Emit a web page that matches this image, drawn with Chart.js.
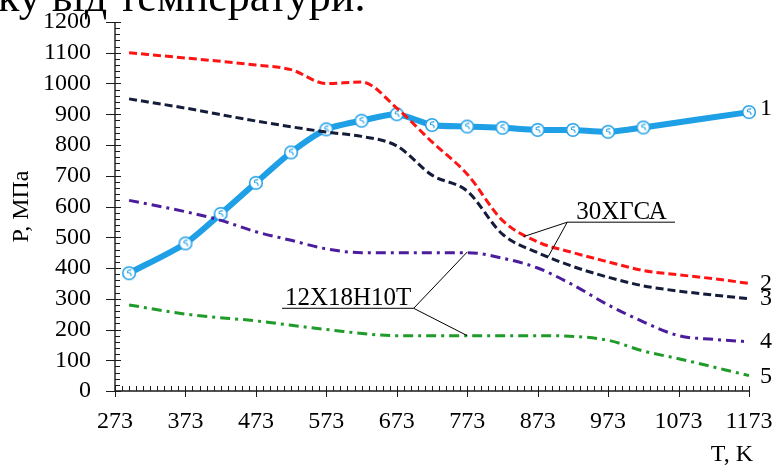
<!DOCTYPE html>
<html>
<head>
<meta charset="utf-8">
<script src="https://cdn.jsdelivr.net/npm/chart.js@4/dist/chart.umd.min.js"></script>
<style>
  html, body { margin: 0; padding: 0; background: #fff; }
  #wrap { width: 773px; height: 467px; position: relative; overflow: hidden; }
</style>
</head>
<body>
<div id="wrap"><canvas id="c" width="773" height="467"></canvas></div>
<script>
// Axis ticks
const xTicks = [273, 373, 473, 573, 673, 773, 873, 973, 1073, 1173];
const yTicks = [0, 100, 200, 300, 400, 500, 600, 700, 800, 900, 1000, 1100, 1200];

// Curve 1 (measured points)
const temp1 = [293, 373, 423, 473, 523, 573, 623, 673, 723, 773, 823, 873, 923, 973, 1023, 1173];
const stress1 = [383, 480, 576, 677, 776, 851, 879, 900, 865, 860, 856, 849, 849, 843, 857, 907];

// Curve 2 – 30ХГСА (upper)
const temp2 = [293, 373, 473, 523, 573, 623, 673, 723, 773, 823, 873, 923, 973, 1023, 1073, 1123, 1173];
const stress2 = [1100, 1083, 1060, 1045, 1000, 1005, 920, 810, 705, 555, 485, 450, 420, 392, 378, 365, 350];

// Curve 3 – 30ХГСА (lower)
const temp3 = [293, 373, 473, 573, 623, 673, 723, 773, 823, 873, 923, 973, 1023, 1073, 1123, 1173];
const stress3 = [950, 920, 878, 842, 828, 797, 702, 650, 510, 450, 405, 370, 342, 325, 312, 300];

// Curve 4 – 12Х18Н10Т (upper)
const temp4 = [293, 373, 423, 473, 523, 573, 623, 673, 723, 773, 823, 873, 923, 973, 1023, 1073, 1123, 1173];
const stress4 = [620, 583, 555, 518, 490, 462, 450, 450, 450, 450, 432, 400, 345, 280, 225, 180, 168, 160];

// Curve 5 – 12Х18Н10Т (lower)
const temp5 = [293, 373, 473, 573, 673, 773, 873, 973, 1023, 1073, 1173];
const stress5 = [280, 250, 228, 200, 180, 180, 180, 165, 130, 105, 50];

const FONT = '"Liberation Serif", "Times New Roman", serif';

function pts(xs, ys) { return xs.map((x, i) => ({ x: x, y: ys[i] })); }

// Small round marker with a stroke inside
function makeMarker() {
  const c = document.createElement('canvas');
  c.width = 16; c.height = 16;
  const g = c.getContext('2d');
  g.beginPath(); g.arc(8, 8, 6.3, 0, Math.PI * 2);
  g.fillStyle = '#ffffff'; g.fill();
  g.lineWidth = 1.5; g.strokeStyle = '#1E9FE6'; g.stroke();
  g.beginPath();
  g.moveTo(10.2, 4.9);
  g.quadraticCurveTo(5.4, 4.6, 6.6, 7.5);
  g.quadraticCurveTo(10.8, 7.7, 9.9, 10.9);
  g.lineWidth = 1.1; g.stroke();
  return c;
}
const marker = makeMarker();

// Axes, tick marks, labels and call-outs
const decor = {
  id: 'decor',
  afterDraw(chart) {
    const ctx = chart.ctx;
    const xs = chart.scales.x, ys = chart.scales.y;
    const X = v => xs.getPixelForValue(v), Y = v => ys.getPixelForValue(v);
    const left = X(273), right = X(1173), bottom = Y(0), top = Y(1200);
    ctx.save();
    ctx.strokeStyle = '#1a1a1a';
    ctx.lineWidth = 1.4;
    ctx.beginPath();
    ctx.moveTo(left, top); ctx.lineTo(left, bottom); ctx.lineTo(right, bottom);
    ctx.stroke();
    ctx.lineWidth = 1;
    ctx.beginPath();
    // y ticks: major crossing the axis, minor inside
    for (let v = 0; v <= 1200; v += 20) {
      const py = Math.round(Y(v)) + 0.5;
      if (v % 100 === 0) { ctx.moveTo(left - 9, py); ctx.lineTo(left + 6, py); }
      else { ctx.moveTo(left, py); ctx.lineTo(left + 5, py); }
    }
    // x ticks
    for (let v = 273; v <= 1173; v += 10) {
      const px = Math.round(X(v)) + 0.5;
      if ((v - 273) % 100 === 0) { ctx.moveTo(px, bottom - 5); ctx.lineTo(px, bottom + 6); }
      else { ctx.moveTo(px, bottom - 5); ctx.lineTo(px, bottom); }
    }
    ctx.stroke();

    // call-outs
    ctx.strokeStyle = '#000';
    ctx.lineWidth = 1;
    ctx.fillStyle = '#000';
    ctx.font = '25px ' + FONT;
    ctx.textBaseline = 'alphabetic';
    ctx.textAlign = 'left';
    // 30ХГСА
    let ax = X(915), ay = Y(549);
    ctx.beginPath();
    ctx.moveTo(ax, ay); ctx.lineTo(X(1068), ay);
    ctx.moveTo(ax, ay); ctx.lineTo(X(853), Y(502));
    ctx.moveTo(ax, ay); ctx.lineTo(X(888), Y(437));
    ctx.stroke();
    ctx.fillText('30ХГСА', ax + 9, ay - 3);
    // 12Х18Н10Т
    ax = X(697); ay = Y(269);
    ctx.beginPath();
    ctx.moveTo(X(510), ay); ctx.lineTo(ax, ay);
    ctx.moveTo(ax, ay); ctx.lineTo(X(773), Y(452));
    ctx.moveTo(ax, ay); ctx.lineTo(X(773), Y(180));
    ctx.stroke();
    ctx.fillText('12Х18Н10Т', X(510) + 3, ay - 3);

    // curve numbers
    ctx.font = '24px ' + FONT;
    ctx.textBaseline = 'middle';
    const ends = [[stress1, '1', 3], [stress2, '2', 0], [stress3, '3', 0], [stress4, '4', 0], [stress5, '5', -1]];
    ends.forEach(([arr, t, dy]) => {
      ctx.fillText(t, right + 11, Y(arr[arr.length - 1]) - dy);
    });

    // horizontal axis title
    ctx.textAlign = 'right';
    ctx.fillText('T, K', right + 4, 455);

    // caption line above the chart
    ctx.textAlign = 'left';
    ctx.font = '44px ' + FONT;
    ctx.textBaseline = 'alphabetic';
    ctx.fillText('ку від температури.', -2, 11);
    ctx.restore();
  }
};

const common = { fill: false, cubicInterpolationMode: 'monotone', pointRadius: 0, clip: false };

new Chart(document.getElementById('c'), {
  type: 'line',
  data: {
    datasets: [
      Object.assign({}, common, { label: '2', data: pts(temp2, stress2), borderColor: '#FF1414', borderWidth: 3, borderDash: [8, 4], order: 1 }),
      Object.assign({}, common, { label: '3', data: pts(temp3, stress3), borderColor: '#141C3A', borderWidth: 3, borderDash: [8, 4], order: 2 }),
      Object.assign({}, common, { label: '4', data: pts(temp4, stress4), borderColor: '#4B1C9C', borderWidth: 3, borderDash: [10, 5, 3, 5], order: 3 }),
      Object.assign({}, common, { label: '5', data: pts(temp5, stress5), borderColor: '#1E9B28', borderWidth: 3, borderDash: [10, 5, 3, 5], order: 4 }),
      Object.assign({}, common, { label: '1', data: pts(temp1, stress1), borderColor: '#1E9FE6', borderWidth: 6,
        pointRadius: 7, pointStyle: marker, tension: 0.25, cubicInterpolationMode: 'default', order: 5 })
    ]
  },
  options: {
    responsive: false,
    devicePixelRatio: 1,
    animation: false,
    events: [],
    layout: { padding: { top: 22, right: 24, left: 0, bottom: 0 } },
    plugins: { legend: { display: false }, tooltip: { enabled: false } },
    scales: {
      x: {
        type: 'linear', min: 273, max: 1173,
        grid: { display: false, drawTicks: false },
        border: { display: false },
        afterBuildTicks(s) { s.ticks = xTicks.map(v => ({ value: v })); },
        afterFit(s) { s.height = 76; s.paddingLeft = 0; s.paddingRight = 0; },
        ticks: { color: '#000', font: { family: FONT, size: 24 }, padding: 16, autoSkip: false, maxRotation: 0,
          callback: v => String(v) },
        title: { display: false }
      },
      y: {
        type: 'linear', min: 0, max: 1200,
        grid: { display: false, drawTicks: false },
        border: { display: false },
        afterBuildTicks(s) { s.ticks = yTicks.map(v => ({ value: v })); },
        afterFit(s) { s.width = 115; s.paddingTop = 0; s.paddingBottom = 0; },
        ticks: { color: '#000', font: { family: FONT, size: 24 }, padding: 24, autoSkip: false, callback: v => String(v) },
        title: { display: true, text: 'P, МПа', color: '#000', font: { family: FONT, size: 24 }, padding: { top: 7, bottom: 0 } }
      }
    }
  },
  plugins: [decor]
});
</script>
</body>
</html>
